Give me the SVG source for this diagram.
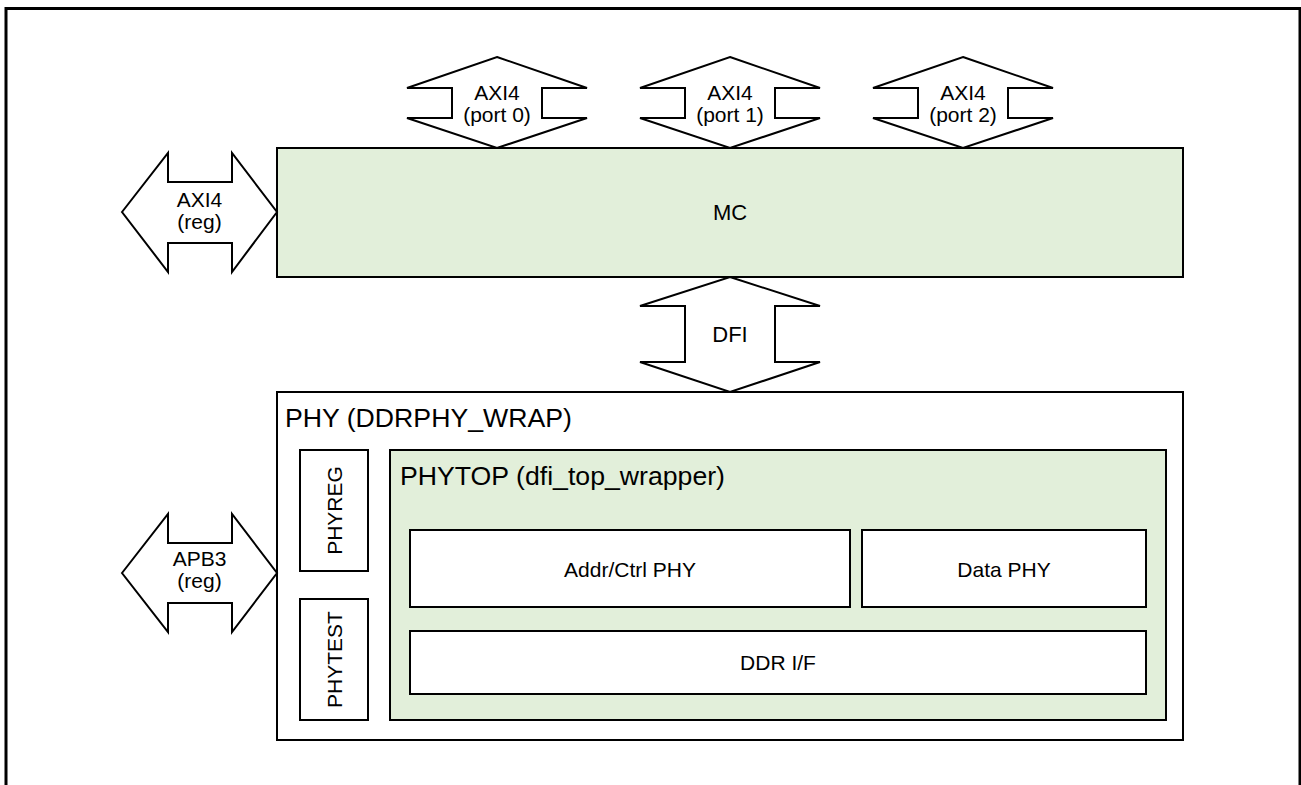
<svg xmlns="http://www.w3.org/2000/svg" width="1301" height="785" viewBox="0 0 1301 785">
<style>
.box{fill:#fff;stroke:#000;stroke-width:2}
.green{fill:#e2efda;stroke:#000;stroke-width:2}
.arr{fill:#fff;stroke:#000;stroke-width:2;stroke-linejoin:miter}
text{font-family:"Liberation Sans",Arial,sans-serif;fill:#000}
.c{text-anchor:middle}
.f20{font-size:21px}
.f22{font-size:22px}
.f27{font-size:26.67px}
</style>
<rect width="1301" height="785" fill="#fff"/>
<path d="M6,785 V8.5 H1300 V785" fill="none" stroke="#000" stroke-width="3"/>
<g id="MC">
<rect class="green" x="277" y="148" width="906" height="129"/>
<text class="c f22" x="730" y="220">MC</text>
</g>
<g id="PHY">
<rect class="box" x="277" y="392" width="906" height="348"/>
<text class="f27" x="285" y="427">PHY (DDRPHY_WRAP)</text>
</g>
<g id="PHYREG">
<rect class="box" x="300" y="450" width="68" height="121"/>
<text class="c f20" transform="translate(341.5,510.5) rotate(-90)" x="0" y="0">PHYREG</text>
</g>
<g id="PHYTEST">
<rect class="box" x="300" y="599" width="68" height="121"/>
<text class="c f20" transform="translate(341.5,659.5) rotate(-90)" x="0" y="0">PHYTEST</text>
</g>
<g id="PHYTOP">
<rect class="green" x="390" y="450" width="776" height="270"/>
<text class="f27" x="400" y="485">PHYTOP (dfi_top_wrapper)</text>
</g>
<g id="AddrCtrlPHY">
<rect class="box" x="410" y="530" width="440" height="77"/>
<text class="c f20" x="630" y="576.5">Addr/Ctrl PHY</text>
</g>
<g id="DataPHY">
<rect class="box" x="862" y="530" width="284" height="77"/>
<text class="c f20" x="1004" y="576.5">Data PHY</text>
</g>
<g id="DDRIF">
<rect class="box" x="410" y="631" width="736" height="63"/>
<text class="c f20" x="778" y="669.5">DDR I/F</text>
</g>
<g id="connectors">
<g id="axi4-port0">
<polygon class="arr" points="497,57 587,88 542,88 542,118 587,118 497,148 407,118 452,118 452,88 407,88"/>
<text class="c f20" x="497" y="100">AXI4</text>
<text class="c f20" x="497" y="122">(port 0)</text>
</g>
<g id="axi4-port1">
<polygon class="arr" points="730,57 820,88 775,88 775,118 820,118 730,148 640,118 685,118 685,88 640,88"/>
<text class="c f20" x="730" y="100">AXI4</text>
<text class="c f20" x="730" y="122">(port 1)</text>
</g>
<g id="axi4-port2">
<polygon class="arr" points="963,57 1053,88 1008,88 1008,118 1053,118 963,148 873,118 918,118 918,88 873,88"/>
<text class="c f20" x="963" y="100">AXI4</text>
<text class="c f20" x="963" y="122">(port 2)</text>
</g>
<g id="dfi">
<polygon class="arr" points="730,277 820,306 775,306 775,362 820,362 730,392 640,362 685,362 685,306 640,306"/>
<text class="c f22" x="730" y="342">DFI</text>
</g>
<g id="axi4-reg">
<polygon class="arr" points="122,212 168,153 168,182 232,182 232,153 277,212 232,272 232,243 168,243 168,272"/>
<text class="c f20" x="199.5" y="206.5">AXI4</text>
<text class="c f20" x="199.5" y="228.5">(reg)</text>
</g>
<g id="apb3-reg">
<polygon class="arr" points="122,573 168,514 168,543 232,543 232,514 277,573 232,632 232,603 168,603 168,632"/>
<text class="c f20" x="199.5" y="566">APB3</text>
<text class="c f20" x="199.5" y="588">(reg)</text>
</g>
</g>
</svg>
